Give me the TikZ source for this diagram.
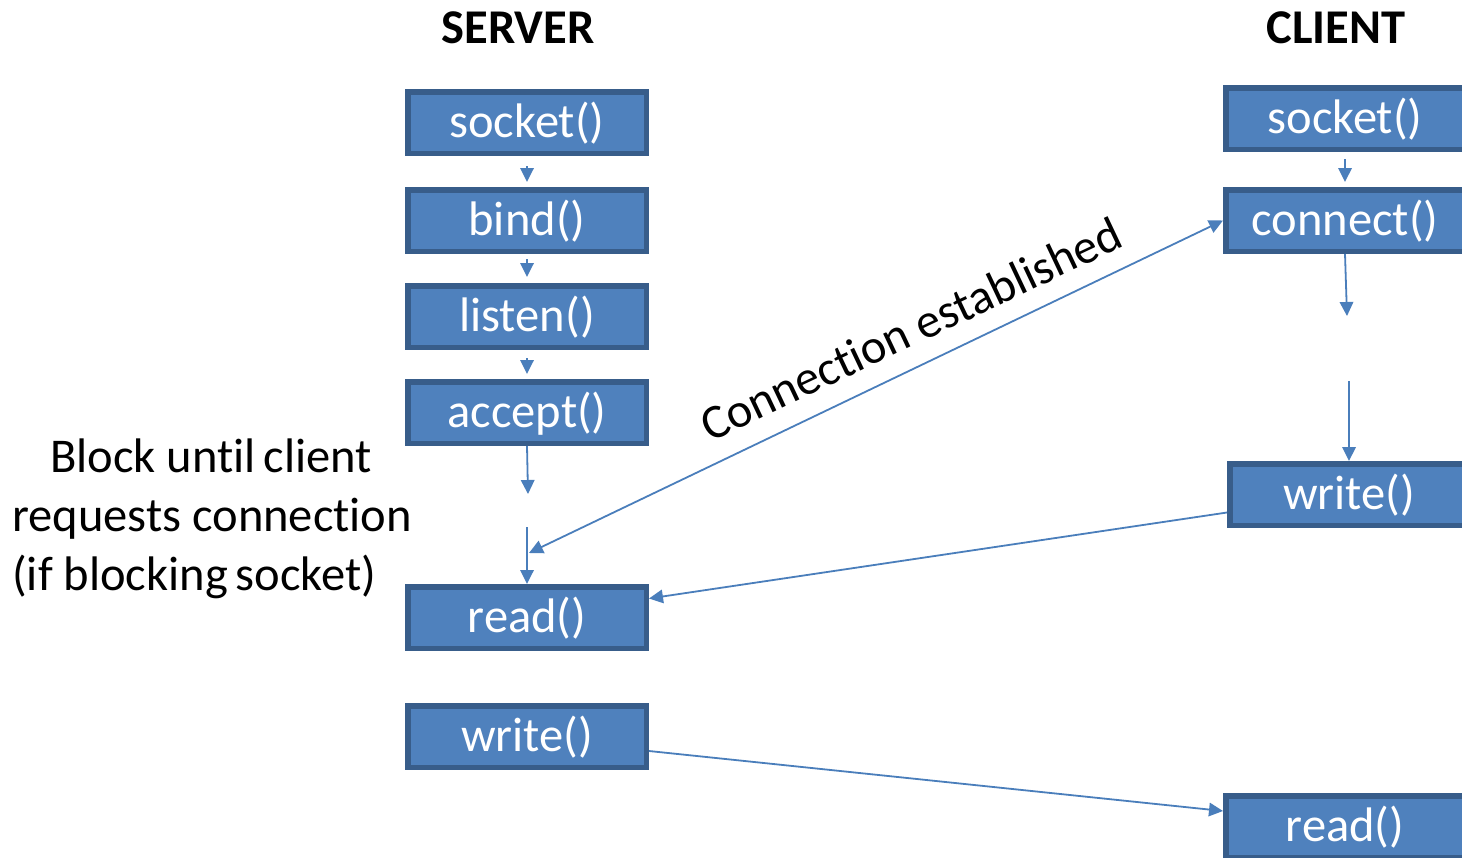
\documentclass[tikz,border=0pt]{standalone}
\usepackage{fontspec}
\setmainfont{Carlito}[Ligatures=NoCommon]
\usetikzlibrary{arrows.meta,calc}
\definecolor{boxfill}{HTML}{4F81BD}
\definecolor{boxline}{HTML}{385D8A}
\definecolor{link}{HTML}{4A7EBB}

\begin{document}
\begin{tikzpicture}[x=1pt,y=-1pt,
  call/.style={draw=boxline, fill=boxfill, line width=5.5pt,
    minimum width=238.5pt, minimum height=61.5pt, inner sep=0pt,
    text=white, font=\fontsize{48.5}{58}\selectfont,
    text height=35pt, text depth=5pt},
  head/.style={font=\fontsize{48.5}{58}\selectfont\bfseries, anchor=base},
  note/.style={font=\fontsize{48.5}{58}\selectfont, anchor=base west, inner sep=0pt},
  flow/.style={draw=link, line width=1.8pt, -{Triangle[length=14pt,width=13.5pt]}},
  both/.style={draw=link, line width=1.8pt,
    {Triangle[length=14pt,width=13.5pt]}-{Triangle[length=14pt,width=13.5pt]}}
]
\useasboundingbox (0,0) rectangle (1462,857);
\clip (0,0) rectangle (1462,857);

% column headings
\node[head] (hs) at (518,43) {SERVER};
\node[head] (hc) at (1336,43) {CLIENT};

% server calls
\node[call] (ss) at (527,122.5) {socket()};
\node[call] (sb) at (527,220.5) {bind()};
\node[call] (sl) at (527,316.5) {listen()};
\node[call] (sa) at (527,412.5) {accept()};
\node[call] (sr) at (527,617.5) {read()};
\node[call] (sw) at (527,736.5) {write()};

% client calls
\node[call] (cs) at (1345,118.5) {socket()};
\node[call] (cc) at (1345,220.5) {connect()};
\node[call] (cw) at (1349,494.5) {write()};
\node[call] (cr) at (1345,826.5) {read()};

% blocking note
\node[note] (n1) at (50,472) {Block until\,client};
\node[note] (n2) at (12,531) {requests connection};
\node[note] (n3) at (12,590) {(if blocking\,socket)};

% server sequence
\draw[flow, shorten <=10pt, shorten >=5pt] (ss.south) -- (sb.north);
\draw[flow, shorten <=5pt, shorten >=6pt] (sb.south) -- (sl.north);
\draw[flow, shorten <=8pt, shorten >=5pt] (sl.south) -- (sa.north);
\coordinate (sg1) at (528,494);
\coordinate (sg2) at (527,527);
\draw[flow] (sa.south) -- (sg1);
\draw[flow] (sg2) -- (sr.north);

% client sequence
\draw[flow, shorten <=7pt, shorten >=5pt] (cs.south) -- (cc.north);
\coordinate (cg1) at (1347,316);
\coordinate (cg2) at (1349,381);
\draw[flow] (cc.south) -- (cg1);
\draw[flow] (cg2) -- (cw.north);

% exchanges between the two sides
\coordinate (acc) at (529,553);
\draw[both] (acc) -- (cc.west);
\node[font=\fontsize{48.5}{58}\selectfont, anchor=base, rotate=25.3, inner sep=0pt]
  (ce) at (918,344) {Connection established};
\draw[flow] ($(cw.west)+(0,18)$) -- ($(sr.east)+(0,-19)$);
\draw[flow] ($(sw.east)+(0,14.5)$) -- ($(cr.west)+(0,-15.5)$);
\end{tikzpicture}
\end{document}
